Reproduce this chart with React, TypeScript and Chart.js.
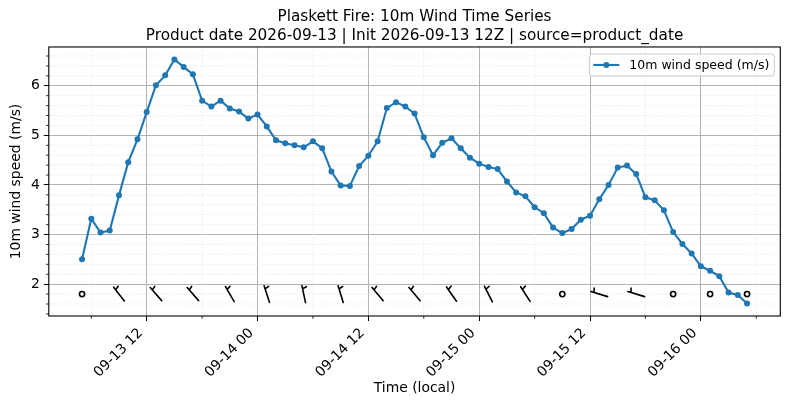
import { useEffect, useRef } from "react"
import { Chart, registerables } from "chart.js"

Chart.register(...registerables)

const FONT = "'DejaVu Sans', sans-serif"
const BLUE = "#1f77b4"

// hourly samples, hours counted from 2026-09-13 00:00 local
const startHour = 5
const windSpeed = [
  2.5, 3.32, 3.04, 3.08, 3.79, 4.46, 4.92, 5.47, 6.01, 6.21,
  6.53, 6.38, 6.23, 5.7, 5.58, 5.7, 5.54, 5.48, 5.34, 5.42,
  5.18, 4.9, 4.84, 4.8, 4.76, 4.88, 4.74, 4.27, 3.99, 3.98,
  4.38, 4.59, 4.88, 5.55, 5.67, 5.58, 5.44, 4.96, 4.6, 4.85,
  4.94, 4.74, 4.55, 4.43, 4.36, 4.32, 4.07, 3.85, 3.77, 3.55,
  3.43, 3.14, 3.03, 3.11, 3.3, 3.38, 3.71, 4.0, 4.35, 4.39,
  4.22, 3.75, 3.69, 3.49, 3.05, 2.81, 2.62, 2.36, 2.27, 2.16,
  1.83, 1.78, 1.61,
]

// wind barbs every 4 h: direction the wind blows from (deg), null = calm
const barbHours = [5, 9, 13, 17, 21, 25, 29, 33, 37, 41, 45, 49, 53, 57, 61, 65, 69, 73, 77]
const barbDirection: (number | null)[] = [
  null, 322, 319, 319, 330, 342, 348, 343, 320, 320,
  325, 333, 327, null, 287, 287, null, null, null,
]
const barbLevel = 1.8

const xTickHours = [12, 24, 36, 48, 60, 72]
const xTickLabels = ["09-13 12", "09-14 00", "09-14 12", "09-15 00", "09-15 12", "09-16 00"]
const yTicks = [2, 3, 4, 5, 6]

const titleLines = [
  "Plaskett Fire: 10m Wind Time Series",
  "Product date 2026-09-13 | Init 2026-09-13 12Z | source=product_date",
]

const extras = {
  id: "extras",
  beforeDatasetsDraw(chart: any) {
    const { ctx, chartArea: a, scales } = chart
    const xs = scales.x
    const ys = scales.y
    ctx.save()
    ctx.strokeStyle = "#e0e0e0"
    ctx.lineWidth = 0.8
    ctx.setLineDash([1, 1.6])
    ctx.beginPath()
    for (let h = Math.ceil(xs.min / 6) * 6; h <= xs.max; h += 6) {
      if (h % 12 === 0) continue
      const px = xs.getPixelForValue(h)
      ctx.moveTo(px, a.top)
      ctx.lineTo(px, a.bottom)
    }
    for (let k = Math.ceil(ys.min * 5); k <= ys.max * 5; k++) {
      if (k % 5 === 0) continue
      const py = ys.getPixelForValue(k / 5)
      ctx.moveTo(a.left, py)
      ctx.lineTo(a.right, py)
    }
    ctx.stroke()
    ctx.restore()
  },
  afterDatasetsDraw(chart: any) {
    const { ctx, chartArea: a, scales } = chart
    const xs = scales.x
    const ys = scales.y
    ctx.save()

    // wind barbs
    const L = 17.4
    const u = L / 5
    ctx.strokeStyle = "#000"
    ctx.lineWidth = 1.6
    ctx.lineCap = "round"
    barbHours.forEach((h, k) => {
      const dir = barbDirection[k]
      const px = xs.getPixelForValue(h)
      const py = ys.getPixelForValue(barbLevel)
      ctx.beginPath()
      if (dir === null) {
        ctx.arc(px, py, 0.75 * u, 0, Math.PI * 2)
        ctx.stroke()
        return
      }
      const r = (dir * Math.PI) / 180
      const dx = Math.sin(r)
      const dy = -Math.cos(r)
      const bx0 = px - (dx * L) / 2
      const by0 = py - (dy * L) / 2
      const off = (5 - 0.9375) * u
      const hx = bx0 + dx * off
      const hy = by0 + dy * off
      ctx.moveTo(bx0, by0)
      ctx.lineTo(px + (dx * L) / 2, py + (dy * L) / 2)
      ctx.moveTo(hx, hy)
      ctx.lineTo(hx - dy * 1.2 * u + dx * 0.35 * u, hy + dx * 1.2 * u + dy * 0.35 * u)
      ctx.stroke()
    })

    // minor tick marks
    ctx.lineCap = "butt"
    ctx.lineWidth = 0.8
    ctx.beginPath()
    for (let h = Math.ceil(xs.min / 6) * 6; h <= xs.max; h += 6) {
      if (h % 12 === 0) continue
      const px = xs.getPixelForValue(h)
      ctx.moveTo(px, a.bottom)
      ctx.lineTo(px, a.bottom + 2.8)
    }
    for (let k = Math.ceil(ys.min * 5); k <= ys.max * 5; k++) {
      if (k % 5 === 0) continue
      const py = ys.getPixelForValue(k / 5)
      ctx.moveTo(a.left, py)
      ctx.lineTo(a.left - 2.8, py)
    }
    ctx.stroke()

    // axes frame
    ctx.lineWidth = 1.1
    ctx.strokeRect(a.left, a.top, a.right - a.left, a.bottom - a.top)

    // legend, upper right inside the axes
    const label = chart.data.datasets[0].label
    ctx.font = `12.5px ${FONT}`
    const tw = ctx.measureText(label).width
    const bw = 5 + 25 + 10 + tw + 5
    const bh = 22
    const bx = a.right - 6 - bw
    const by = a.top + 7
    ctx.beginPath()
    ctx.roundRect(bx, by, bw, bh, 3)
    ctx.fillStyle = "rgba(255,255,255,0.8)"
    ctx.fill()
    ctx.strokeStyle = "#cccccc"
    ctx.lineWidth = 1
    ctx.stroke()
    const cy = by + bh / 2
    ctx.strokeStyle = BLUE
    ctx.lineWidth = 2.1
    ctx.beginPath()
    ctx.moveTo(bx + 4, cy)
    ctx.lineTo(bx + 30, cy)
    ctx.stroke()
    ctx.fillStyle = BLUE
    ctx.beginPath()
    ctx.arc(bx + 17, cy, 3, 0, Math.PI * 2)
    ctx.fill()
    ctx.fillStyle = "#000"
    ctx.textBaseline = "middle"
    ctx.fillText(label, bx + 40, cy + 0.5)

    ctx.restore()
  },
}

export default function App() {
  const chartRef = useRef<HTMLCanvasElement>(null)
  const chartInstance = useRef<Chart | null>(null)

  useEffect(() => {
    document.body.style.margin = "0"
    if (!chartRef.current) return

    if (chartInstance.current) {
      chartInstance.current.destroy()
    }

    const ctx = chartRef.current.getContext("2d")
    if (!ctx) return

    Chart.defaults.font.family = FONT
    Chart.defaults.color = "#000"

    const points = windSpeed.map((v, i) => ({ x: startHour + i, y: v }))

    chartInstance.current = new Chart(ctx, {
      type: "line",
      data: {
        datasets: [
          {
            label: "10m wind speed (m/s)",
            data: points,
            borderColor: BLUE,
            backgroundColor: BLUE,
            borderWidth: 2.1,
            pointRadius: 3,
            pointBorderWidth: 0,
            pointBackgroundColor: BLUE,
            tension: 0,
          },
        ],
      },
      options: {
        responsive: false,
        animation: false,
        events: [],
        layout: { padding: { left: 0, right: 9.7, top: 0, bottom: 0 } },
        plugins: {
          legend: { display: false },
          tooltip: { enabled: false },
          title: {
            display: true,
            fullSize: false,
            text: titleLines,
            color: "#000",
            font: { family: FONT, size: 15.28, weight: "normal", lineHeight: 1.2 },
            padding: { top: 8.2, bottom: 2.1 },
          },
        },
        scales: {
          x: {
            type: "linear",
            min: 1.4,
            max: 80.6,
            afterBuildTicks: (s: any) => {
              s.ticks = xTickHours.map((v) => ({ value: v }))
            },
            afterFit: (s: any) => {
              s.height = 93
            },
            ticks: {
              autoSkip: false,
              minRotation: 45,
              maxRotation: 45,
              padding: 4,
              labelOffset: -6,
              color: "#000",
              font: { size: 13.9 },
              callback: (v: any) => xTickLabels[xTickHours.indexOf(Number(v))] ?? "",
            },
            grid: {
              color: "#acacac",
              lineWidth: 0.9,
              tickColor: "#000",
              tickLength: 5,
              tickWidth: 1,
            },
            border: { display: false },
            title: {
              display: true,
              text: "Time (local)",
              color: "#000",
              font: { size: 13.9 },
              padding: { top: 0, bottom: 12.7 },
            },
          },
          y: {
            type: "linear",
            min: 1.358,
            max: 6.782,
            afterBuildTicks: (s: any) => {
              s.ticks = yTicks.map((v) => ({ value: v }))
            },
            afterFit: (s: any) => {
              s.width = 48.8
            },
            ticks: {
              padding: 4,
              color: "#000",
              font: { size: 13.9 },
            },
            grid: {
              color: "#acacac",
              lineWidth: 0.9,
              tickColor: "#000",
              tickLength: 5,
              tickWidth: 1,
            },
            border: { display: false },
            title: {
              display: true,
              text: "10m wind speed (m/s)",
              color: "#000",
              font: { size: 13.9 },
              padding: { top: 8.5, bottom: 0 },
            },
          },
        },
      },
      plugins: [extras],
    })

    return () => {
      if (chartInstance.current) {
        chartInstance.current.destroy()
        chartInstance.current = null
      }
    }
  }, [])

  return (
    <div style={{ width: 790, height: 409, background: "#fff" }}>
      <canvas ref={chartRef} width={790} height={409} />
    </div>
  )
}
